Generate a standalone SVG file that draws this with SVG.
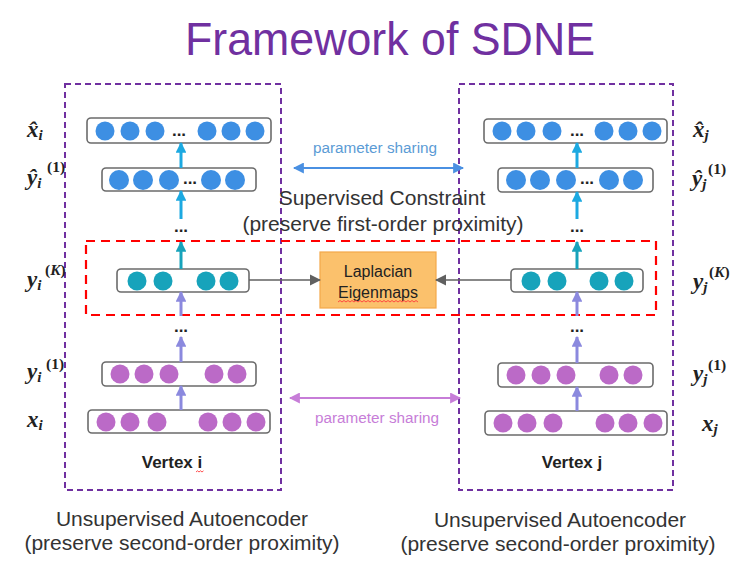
<svg xmlns="http://www.w3.org/2000/svg" width="748" height="569" viewBox="0 0 748 569">
  <defs>
    <style>
      .title { font-family: "Liberation Sans", Arial, sans-serif; font-size: 46px; fill: #7030A0; }
      .cap { font-family: "Liberation Sans", Arial, sans-serif; font-size: 21px; fill: #333333; text-anchor: middle; }
      .layer { fill: #ffffff; stroke: #6b6b6b; stroke-width: 1.6; }
      .blue { fill: #3d8fe3; }
      .teal { fill: #17a3bb; }
      .orchid { fill: #bb6ac7; }
      .dots { font-family: "Liberation Sans", Arial, sans-serif; font-weight: bold; font-size: 17px; fill: #222222; text-anchor: middle; }
      .math { font-family: "Liberation Serif", "Times New Roman", serif; font-weight: bold; font-style: italic; font-size: 23px; fill: #222222; }
      .sub { font-size: 15px; }
      .sup { font-family: "Liberation Serif", "Times New Roman", serif; font-weight: bold; font-size: 15.5px; fill: #222222; }
      .supk { font-style: italic; }
      .vertex { font-family: "Liberation Sans", Arial, sans-serif; font-weight: bold; font-size: 17px; fill: #222222; text-anchor: middle; }
      .encoder { fill: none; stroke: #7030A0; stroke-width: 2; stroke-dasharray: 6 4; }
      .constraint { fill: none; stroke: #ff0000; stroke-width: 2.2; stroke-dasharray: 9 6; }
      .up-cyan { stroke: #1ca9e1; stroke-width: 3; marker-end: url(#head-cyan); }
      .up-teal { stroke: #17a3bb; stroke-width: 3; marker-end: url(#head-teal); }
      .up-lav { stroke: #8b89de; stroke-width: 3; marker-end: url(#head-lav); }
      .link { stroke: #606060; stroke-width: 1.6; marker-end: url(#head-gray); }
      .share-blue { stroke: #4a90e2; stroke-width: 2; marker-start: url(#head-sblue); marker-end: url(#head-sblue); }
      .share-orchid { stroke: #c77dd8; stroke-width: 2; marker-start: url(#head-sorchid); marker-end: url(#head-sorchid); }
      .share-label { font-family: "Liberation Sans", Arial, sans-serif; font-size: 15.3px; text-anchor: middle; }
      .squiggle { fill: none; stroke: #ff3b3b; stroke-width: 0.9; }
    </style>
    <marker id="head-cyan" viewBox="0 0 10 10" refX="9" refY="5" markerWidth="3.6" markerHeight="3.6" orient="auto" markerUnits="strokeWidth">
      <path d="M0,0 L10,5 L0,10 z" fill="#1ca9e1"/>
    </marker>
    <marker id="head-teal" viewBox="0 0 10 10" refX="9" refY="5" markerWidth="3.6" markerHeight="3.6" orient="auto" markerUnits="strokeWidth">
      <path d="M0,0 L10,5 L0,10 z" fill="#17a3bb"/>
    </marker>
    <marker id="head-lav" viewBox="0 0 10 10" refX="9" refY="5" markerWidth="3.6" markerHeight="3.6" orient="auto" markerUnits="strokeWidth">
      <path d="M0,0 L10,5 L0,10 z" fill="#8b89de"/>
    </marker>
    <marker id="head-gray" viewBox="0 0 10 10" refX="9" refY="5" markerWidth="7" markerHeight="7" orient="auto" markerUnits="strokeWidth">
      <path d="M0,0 L10,5 L0,10 z" fill="#606060"/>
    </marker>
    <marker id="head-sblue" viewBox="0 0 10 10" refX="9" refY="5" markerWidth="5.5" markerHeight="5.5" orient="auto-start-reverse" markerUnits="strokeWidth">
      <path d="M0,0 L10,5 L0,10 z" fill="#4a90e2"/>
    </marker>
    <marker id="head-sorchid" viewBox="0 0 10 10" refX="9" refY="5" markerWidth="5.5" markerHeight="5.5" orient="auto-start-reverse" markerUnits="strokeWidth">
      <path d="M0,0 L10,5 L0,10 z" fill="#c77dd8"/>
    </marker>
  </defs>

  <rect width="748" height="569" fill="#ffffff"/>

  <text class="title" x="390" y="55" text-anchor="middle" textLength="410" lengthAdjust="spacingAndGlyphs">Framework of SDNE</text>

  <!-- autoencoder frames and the first-order constraint band -->
  <g id="frames">
    <rect class="encoder" x="65" y="84" width="216" height="406"/>
    <rect class="encoder" x="459" y="84" width="214" height="406"/>
    <rect class="constraint" x="86" y="241" width="570" height="74"/>
  </g>

  <!-- left autoencoder (vertex i) -->
  <g id="xhat-i">
    <rect class="layer" x="87" y="118" width="184" height="25" rx="4"/>
    <circle class="blue" cx="105" cy="131" r="9.5"/><circle class="blue" cx="130" cy="131" r="9.5"/><circle class="blue" cx="155" cy="131" r="9.5"/>
    <circle class="blue" cx="207" cy="131" r="9.5"/><circle class="blue" cx="231" cy="131" r="9.5"/><circle class="blue" cx="255" cy="131" r="9.5"/>
    <text class="dots" x="179" y="136">...</text>
  </g>
  <g id="yhat1-i">
    <rect class="layer" x="102" y="168" width="154" height="23" rx="4"/>
    <circle class="blue" cx="119" cy="180" r="10"/><circle class="blue" cx="143" cy="180" r="10"/><circle class="blue" cx="169" cy="180" r="10"/>
    <circle class="blue" cx="211" cy="180" r="10"/><circle class="blue" cx="235" cy="180" r="10"/>
    <text class="dots" x="190" y="184">...</text>
  </g>
  <g id="yK-i">
    <rect class="layer" x="117" y="269" width="132" height="23" rx="4"/>
    <circle class="teal" cx="137" cy="281" r="9.5"/><circle class="teal" cx="163" cy="281" r="9.5"/>
    <circle class="teal" cx="206" cy="281" r="9.5"/><circle class="teal" cx="229" cy="281" r="9.5"/>
  </g>
  <g id="y1-i">
    <rect class="layer" x="102" y="362" width="154" height="24" rx="4"/>
    <circle class="orchid" cx="120" cy="374" r="9.5"/><circle class="orchid" cx="144" cy="374" r="9.5"/><circle class="orchid" cx="169" cy="374" r="9.5"/>
    <circle class="orchid" cx="214" cy="374" r="9.5"/><circle class="orchid" cx="237" cy="374" r="9.5"/>
  </g>
  <g id="x-i">
    <rect class="layer" x="88" y="410" width="182" height="23" rx="4"/>
    <circle class="orchid" cx="106" cy="422" r="9.5"/><circle class="orchid" cx="130" cy="422" r="9.5"/><circle class="orchid" cx="157" cy="422" r="9.5"/>
    <circle class="orchid" cx="208" cy="422" r="9.5"/><circle class="orchid" cx="232" cy="422" r="9.5"/><circle class="orchid" cx="256" cy="422" r="9.5"/>
  </g>

  <!-- right autoencoder (vertex j) -->
  <g id="xhat-j">
    <rect class="layer" x="484" y="119" width="183" height="24" rx="4"/>
    <circle class="blue" cx="502" cy="131" r="9.5"/><circle class="blue" cx="526" cy="131" r="9.5"/><circle class="blue" cx="552" cy="131" r="9.5"/>
    <circle class="blue" cx="604" cy="131" r="9.5"/><circle class="blue" cx="628" cy="131" r="9.5"/><circle class="blue" cx="652" cy="131" r="9.5"/>
    <text class="dots" x="577" y="136">...</text>
  </g>
  <g id="yhat1-j">
    <rect class="layer" x="498" y="168" width="155" height="24" rx="4"/>
    <circle class="blue" cx="516" cy="180" r="10"/><circle class="blue" cx="540" cy="180" r="10"/><circle class="blue" cx="566" cy="180" r="10"/>
    <circle class="blue" cx="609" cy="180" r="10"/><circle class="blue" cx="633" cy="180" r="10"/>
    <text class="dots" x="587" y="184">...</text>
  </g>
  <g id="yK-j">
    <rect class="layer" x="511" y="269" width="132" height="23" rx="4"/>
    <circle class="teal" cx="531" cy="281" r="9.5"/><circle class="teal" cx="557" cy="281" r="9.5"/>
    <circle class="teal" cx="599" cy="281" r="9.5"/><circle class="teal" cx="624" cy="281" r="9.5"/>
  </g>
  <g id="y1-j">
    <rect class="layer" x="498" y="363" width="155" height="24" rx="4"/>
    <circle class="orchid" cx="516" cy="375" r="9.5"/><circle class="orchid" cx="541" cy="375" r="9.5"/><circle class="orchid" cx="566" cy="375" r="9.5"/>
    <circle class="orchid" cx="609" cy="375" r="9.5"/><circle class="orchid" cx="633" cy="375" r="9.5"/>
  </g>
  <g id="x-j">
    <rect class="layer" x="485" y="411" width="182" height="24" rx="4"/>
    <circle class="orchid" cx="503" cy="423" r="9.5"/><circle class="orchid" cx="527" cy="423" r="9.5"/><circle class="orchid" cx="553" cy="423" r="9.5"/>
    <circle class="orchid" cx="605" cy="423" r="9.5"/><circle class="orchid" cx="628" cy="423" r="9.5"/><circle class="orchid" cx="653" cy="423" r="9.5"/>
  </g>

  <!-- Laplacian Eigenmaps block -->
  <g id="laplacian">
    <rect x="320" y="252" width="116" height="56" fill="#fbc16c" stroke="#f3a84a" stroke-width="1.2"/>
    <text x="378" y="277" font-family="'Liberation Sans', Arial, sans-serif" font-size="16" fill="#222222" text-anchor="middle">Laplacian</text>
    <text x="378" y="298" font-family="'Liberation Sans', Arial, sans-serif" font-size="16" fill="#222222" text-anchor="middle">Eigenmaps</text>
    <path class="squiggle" d="M338,302 l2,-1.5 l2,1.5 l2,-1.5 l2,1.5 l2,-1.5 l2,1.5 l2,-1.5 l2,1.5 l2,-1.5 l2,1.5 l2,-1.5 l2,1.5 l2,-1.5 l2,1.5 l2,-1.5 l2,1.5 l2,-1.5 l2,1.5 l2,-1.5 l2,1.5 l2,-1.5 l2,1.5 l2,-1.5 l2,1.5 l2,-1.5 l2,1.5 l2,-1.5 l2,1.5 l2,-1.5 l2,1.5 l2,-1.5 l2,1.5 l2,-1.5 l2,1.5 l2,-1.5 l2,1.5 l2,-1.5 l2,1.5 l2,-1.5 l2,1.5"/>
  </g>

  <!-- connectors -->
  <g id="connectors">
    <line class="up-cyan" x1="181" y1="168" x2="181" y2="143"/>
    <line class="up-cyan" x1="181" y1="219" x2="181" y2="191"/>
    <line class="up-teal" x1="181" y1="269" x2="181" y2="242"/>
    <line class="up-lav" x1="181" y1="316" x2="181" y2="292"/>
    <line class="up-lav" x1="181" y1="362" x2="181" y2="337"/>
    <line class="up-lav" x1="181" y1="410" x2="181" y2="386"/>

    <line class="up-cyan" x1="577" y1="168" x2="577" y2="143"/>
    <line class="up-cyan" x1="577" y1="219" x2="577" y2="192"/>
    <line class="up-teal" x1="577" y1="269" x2="577" y2="242"/>
    <line class="up-lav" x1="577" y1="316" x2="577" y2="292"/>
    <line class="up-lav" x1="577" y1="363" x2="577" y2="337"/>
    <line class="up-lav" x1="577" y1="411" x2="577" y2="387"/>

    <line class="link" x1="249" y1="280" x2="320" y2="280"/>
    <line class="link" x1="511" y1="280" x2="436" y2="280"/>

    <line class="share-blue" x1="294" y1="168" x2="463" y2="168"/>
    <line class="share-orchid" x1="290" y1="398" x2="460" y2="398"/>
  </g>

  <!-- elided layers -->
  <g id="ellipses">
    <text class="dots" x="181" y="232">...</text>
    <text class="dots" x="181" y="332">...</text>
    <text class="dots" x="577" y="232">...</text>
    <text class="dots" x="577" y="332">...</text>
  </g>

  <!-- labels -->
  <g id="labels">
    <text class="share-label" x="375" y="153" fill="#5b9bd5">parameter sharing</text>
    <text class="share-label" x="377" y="423" fill="#c77dd8">parameter sharing</text>
    <text class="cap" x="382" y="205">Supervised Constraint</text>
    <text class="cap" x="383" y="231">(preserve first-order proximity)</text>
    <text class="cap" x="182" y="526">Unsupervised Autoencoder</text>
    <text class="cap" x="182" y="550">(preserve second-order proximity)</text>
    <text class="cap" x="560" y="527">Unsupervised Autoencoder</text>
    <text class="cap" x="558" y="551">(preserve second-order proximity)</text>
    <text class="vertex" x="172" y="468">Vertex i</text>
    <path class="squiggle" d="M196,472 l1.5,-1.2 l1.5,1.2 l1.5,-1.2 l1.5,1.2 l1.5,-1.2"/>
    <text class="vertex" x="572" y="468">Vertex j</text>
  </g>

  <!-- layer symbols -->
  <g id="symbols-i">
    <text class="math" x="27" y="137">x&#770;<tspan class="sub" dy="3">i</tspan></text>
    <text class="math" x="27" y="185">y&#770;<tspan class="sub" dy="3">i</tspan></text>
    <text class="sup" x="47" y="172">(1)</text>
    <text class="math" x="27" y="287">y<tspan class="sub" dy="3">i</tspan></text>
    <text class="sup" x="45" y="275">(<tspan class="supk">K</tspan>)</text>
    <text class="math" x="27" y="379">y<tspan class="sub" dy="3">i</tspan></text>
    <text class="sup" x="46" y="369">(1)</text>
    <text class="math" x="27" y="427">x<tspan class="sub" dy="3">i</tspan></text>
  </g>
  <g id="symbols-j">
    <text class="math" x="693" y="137">x&#770;<tspan class="sub" dy="3">j</tspan></text>
    <text class="math" x="692" y="186">y&#770;<tspan class="sub" dy="3">j</tspan></text>
    <text class="sup" x="708" y="174">(1)</text>
    <text class="math" x="693" y="289">y<tspan class="sub" dy="3">j</tspan></text>
    <text class="sup" x="709" y="277">(<tspan class="supk">K</tspan>)</text>
    <text class="math" x="693" y="381">y<tspan class="sub" dy="3">j</tspan></text>
    <text class="sup" x="708" y="370">(1)</text>
    <text class="math" x="702" y="431">x<tspan class="sub" dy="3">j</tspan></text>
  </g>
</svg>
